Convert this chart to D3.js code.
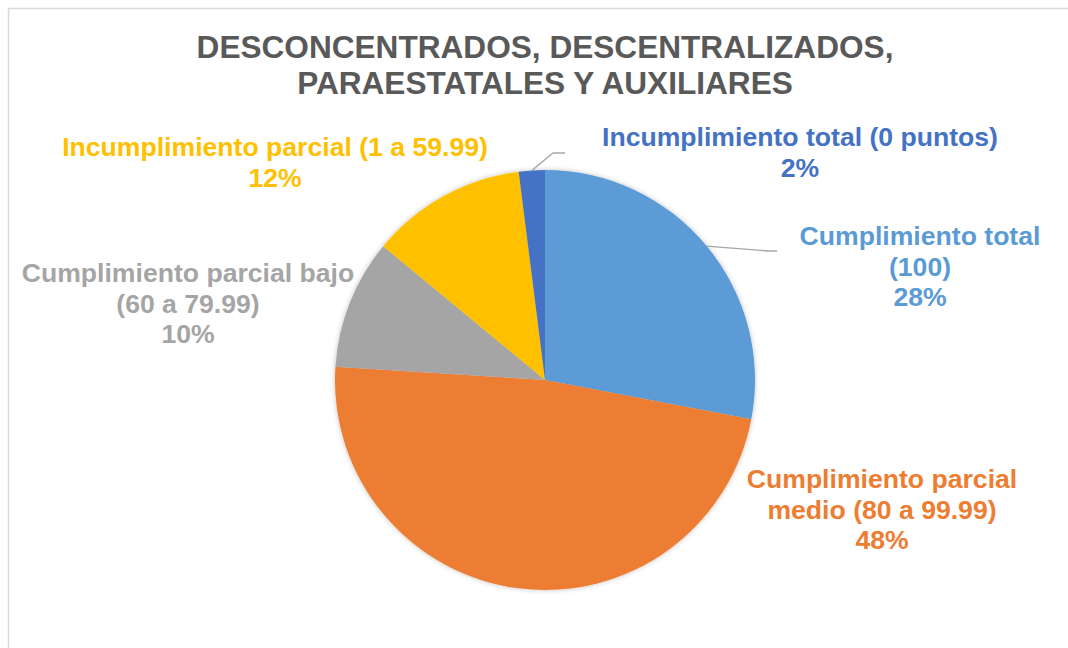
<!DOCTYPE html>
<html><head><meta charset="utf-8">
<script src="https://cdn.jsdelivr.net/npm/d3@7"></script>
<style>html,body{margin:0;padding:0;background:#fff;overflow:hidden}</style>
</head><body>
<svg id="chart" width="1068" height="648"></svg>
<script>
const titleLines = ["DESCONCENTRADOS, DESCENTRALIZADOS,", "PARAESTATALES Y AUXILIARES"];
const categories = [
  "Cumplimiento total (100)",
  "Cumplimiento parcial medio (80 a 99.99)",
  "Cumplimiento parcial bajo (60 a 79.99)",
  "Incumplimiento parcial (1 a 59.99)",
  "Incumplimiento total (0 puntos)"
];
const values = [28, 48, 10, 12, 2];
const labelLines = [
  ["Cumplimiento total", "(100)"],
  ["Cumplimiento parcial", "medio (80 a 99.99)"],
  ["Cumplimiento parcial bajo", "(60 a 79.99)"],
  ["Incumplimiento parcial (1 a 59.99)"],
  ["Incumplimiento total (0 puntos)"]
];
const colors = ["#5B9BD5", "#ED7D31", "#A5A5A5", "#FFC000", "#4472C4"];

// layout
const W = 1068, H = 648;
const cx = 545, cy = 380, R = 210;
const labelPos = [
  {x: 920, y: 245, leader: [768, 251, 777, 251]},
  {x: 882, y: 488},
  {x: 188, y: 282},
  {x: 275, y: 156},
  {x: 800, y: 146, leader: [553, 153, 565, 153]}
];
const lineH = 30.5;

const svg = d3.select("#chart");
const defs = svg.append("defs");
const f = defs.append("filter").attr("id","sh").attr("x","-10%").attr("y","-10%").attr("width","120%").attr("height","120%");
f.append("feDropShadow").attr("dx",0).attr("dy",0).attr("stdDeviation",2.5).attr("flood-color","#000").attr("flood-opacity",0.25);

svg.append("rect").attr("x", 8.5).attr("y", 8.5).attr("width", W + 20).attr("height", H + 20)
  .attr("fill", "#fff").attr("stroke", "#D9D9D9").attr("stroke-width", 1.5);

svg.append("g").selectAll("text").data(titleLines).join("text")
  .attr("x", cx).attr("y", (d, i) => 58 + i * 36)
  .attr("text-anchor", "middle")
  .attr("font-family", "Liberation Sans, Arial, sans-serif")
  .attr("font-weight", "bold").attr("font-size", 31.6)
  .attr("fill", "#595959").text(d => d);

const pie = d3.pie().sort(null).value(d => d)(values);
const arc = d3.arc().innerRadius(0).outerRadius(R);
const g = svg.append("g").attr("transform", `translate(${cx},${cy})`);
g.append("g").attr("filter","url(#sh)").selectAll("path").data(pie).join("path")
  .attr("d", arc).attr("fill", (d, i) => colors[i]);

// leader lines
const outer = d3.arc().innerRadius(R).outerRadius(R);
pie.forEach((d, i) => {
  const L = labelPos[i].leader;
  if (!L) return;
  const c = outer.centroid(d);
  svg.append("polyline")
    .attr("points", `${cx + c[0]},${cy + c[1]} ${L[0]},${L[1]} ${L[2]},${L[3]}`)
    .attr("fill", "none").attr("stroke", "#A6A6A6").attr("stroke-width", 1.3);
});

const fmt = d3.format(".0%");
const total = d3.sum(values);
pie.forEach((d, i) => {
  const lines = labelLines[i].concat([fmt(values[i] / total)]);
  svg.append("text")
    .attr("text-anchor", "middle")
    .attr("font-family", "Liberation Sans, Arial, sans-serif")
    .attr("font-weight", "bold").attr("font-size", 26.6)
    .attr("fill", colors[i])
    .selectAll("tspan").data(lines).join("tspan")
    .attr("x", labelPos[i].x).attr("y", (t, j) => labelPos[i].y + j * lineH)
    .text(t => t);
});
</script>
</body></html>
